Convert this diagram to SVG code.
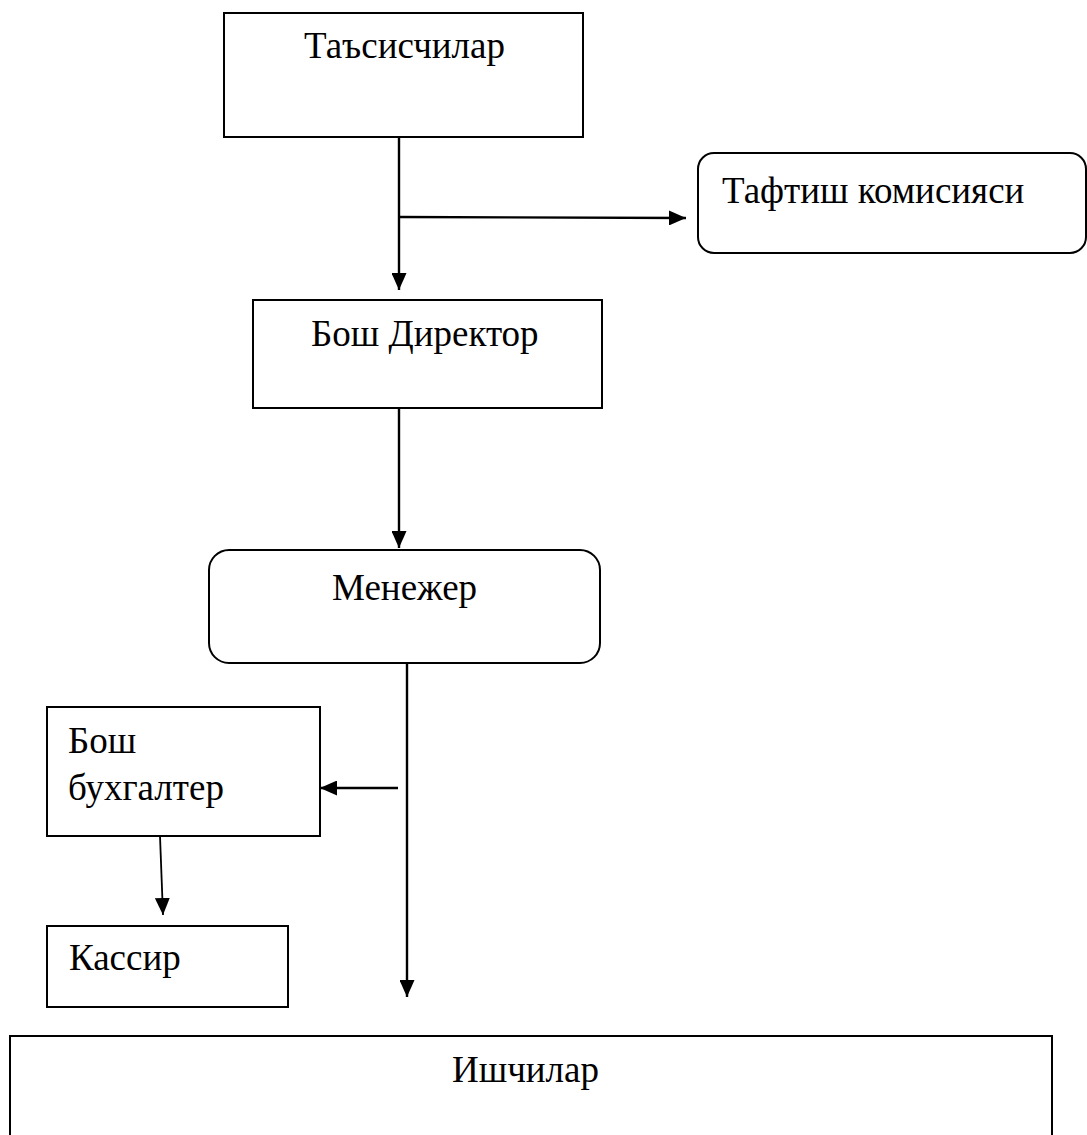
<svg xmlns="http://www.w3.org/2000/svg" width="1087" height="1135" viewBox="0 0 1087 1135">
<style>
.box{fill:#fff;stroke:#000;stroke-width:2}
.lbl{font-family:"Liberation Serif","Times New Roman",serif;font-size:37px;fill:#000}
.con{stroke:#000;stroke-width:2.4;fill:none}
.thin{stroke:#000;stroke-width:1.8;fill:none}
</style>
<defs>
<marker id="ah" markerUnits="userSpaceOnUse" markerWidth="17" markerHeight="15" viewBox="0 0 17 15" refX="17" refY="7.5" orient="auto">
<path d="M0,0 L17,7.5 L0,15 Z" fill="#000"/>
</marker>
</defs>
<rect width="1087" height="1135" fill="#fff"/>
<g id="tasischilar"><rect class="box" x="224" y="13" width="359" height="124"/><text class="lbl" x="304" y="58">Таъсисчилар</text></g>
<g id="taftish"><rect class="box" x="698" y="153" width="388" height="100" rx="16"/><text class="lbl" x="722" y="203">Тафтиш комисияси</text></g>
<g id="direktor"><rect class="box" x="253" y="300" width="349" height="108"/><text class="lbl" x="311" y="346">Бош Директор</text></g>
<g id="menejer"><rect class="box" x="209" y="550" width="391" height="113" rx="20"/><text class="lbl" x="332" y="600">Менежер</text></g>
<g id="buxgalter"><rect class="box" x="47" y="707" width="273" height="129"/><text class="lbl" x="68" y="753">Бош</text><text class="lbl" x="68" y="800">бухгалтер</text></g>
<g id="kassir"><rect class="box" x="47" y="926" width="241" height="81"/><text class="lbl" x="69" y="970">Кассир</text></g>
<g id="ishchilar"><rect class="box" x="10" y="1036" width="1042" height="120"/><text class="lbl" x="452" y="1082">Ишчилар</text></g>
<g id="connectors">
<line class="con" x1="399" y1="137" x2="399" y2="290" marker-end="url(#ah)"/>
<line class="con" x1="399" y1="217" x2="686" y2="218" marker-end="url(#ah)"/>
<line class="con" x1="399" y1="408" x2="399" y2="548" marker-end="url(#ah)"/>
<line class="con" x1="407" y1="663" x2="407" y2="997" marker-end="url(#ah)"/>
<line class="con" x1="398" y1="788" x2="320" y2="788" marker-end="url(#ah)"/>
<line class="thin" x1="160" y1="836" x2="163" y2="915" marker-end="url(#ah)"/>
</g>
</svg>
